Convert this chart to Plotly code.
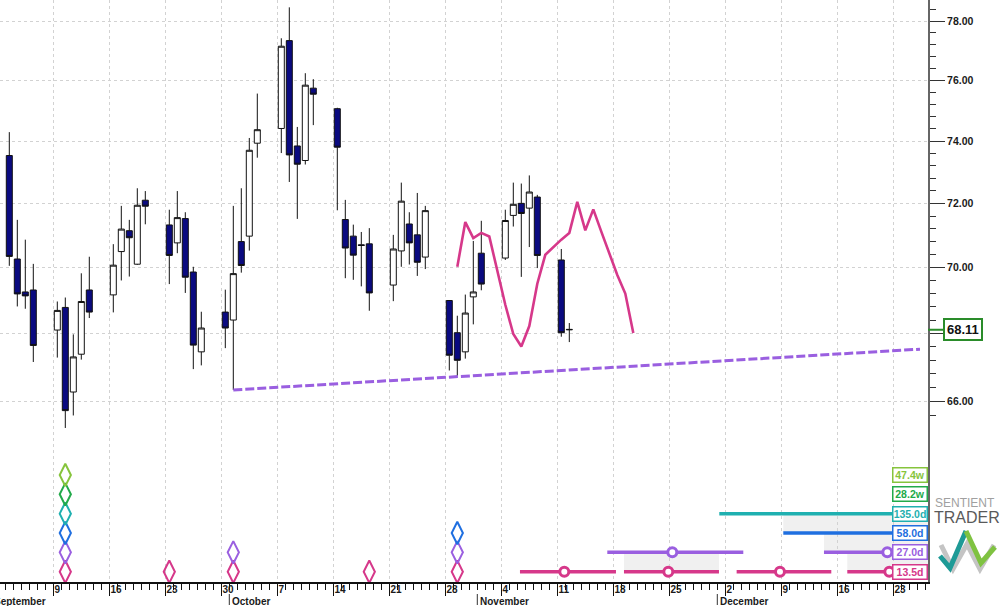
import math
import pandas as pd
import plotly.graph_objects as go

# ---------------- data ----------------
dates = ["2024-09-03", "2024-09-04", "2024-09-05", "2024-09-06",
         "2024-09-09", "2024-09-10", "2024-09-11", "2024-09-12", "2024-09-13",
         "2024-09-16", "2024-09-17", "2024-09-18", "2024-09-19", "2024-09-20",
         "2024-09-23", "2024-09-24", "2024-09-25", "2024-09-26", "2024-09-27",
         "2024-09-30", "2024-10-01", "2024-10-02", "2024-10-03", "2024-10-04",
         "2024-10-07", "2024-10-08", "2024-10-09", "2024-10-10", "2024-10-11",
         "2024-10-14", "2024-10-15", "2024-10-16", "2024-10-17", "2024-10-18",
         "2024-10-21", "2024-10-22", "2024-10-23", "2024-10-24", "2024-10-25",
         "2024-10-28", "2024-10-29", "2024-10-30", "2024-10-31", "2024-11-01",
         "2024-11-04", "2024-11-05", "2024-11-06", "2024-11-07", "2024-11-08",
         "2024-11-11", "2024-11-12"]
opens = [73.53, 70.26, 69.25, 69.31,
         68.10, 68.78, 66.27, 67.38, 69.31,
         69.16, 70.49, 71.14, 70.10, 72.10,
         71.32, 70.76, 71.52, 69.86, 67.45,
         68.64, 68.40, 70.80, 70.97, 73.93,
         74.41, 77.34, 73.84, 73.37, 75.74,
         75.06, 71.49, 70.97, 70.70, 70.73,
         69.46, 70.51, 71.35, 71.01, 70.32,
         68.99, 68.02, 67.45, 69.10, 70.44,
         70.29, 71.62, 72.00, 71.85, 72.20,
         70.23, 68.12]
highs = [74.29, 71.48, 70.86, 70.11,
         68.96, 69.08, 67.97, 69.82, 70.33,
         70.72, 71.92, 71.48, 72.48, 72.39,
         71.80, 72.39, 71.72, 70.02, 68.65,
         69.32, 71.92, 72.48, 74.10, 75.56,
         77.42, 78.48, 74.46, 76.24, 76.04,
         75.09, 72.11, 71.33, 71.10, 71.22,
         71.01, 72.66, 71.72, 72.33, 71.92,
         69.00, 68.53, 69.17, 70.82, 71.45,
         71.80, 72.66, 72.63, 72.89, 72.27,
         70.57, 68.31]
lows = [70.05, 68.81, 68.74, 67.15,
        67.28, 65.23, 65.59, 67.22, 68.46,
        68.63, 69.60, 69.72, 70.08, 71.34,
        69.49, 70.44, 69.22, 66.94, 67.05,
        67.56, 66.33, 69.84, 70.52, 73.46,
        73.61, 72.68, 71.51, 73.24, 74.52,
        71.78, 69.67, 69.62, 69.42, 68.68,
        68.97, 70.02, 70.09, 69.74, 69.95,
        66.90, 66.73, 67.25, 68.27, 69.30,
        70.23, 71.27, 69.71, 70.63, 69.98,
        67.90, 67.74]
closes = [70.34, 69.19, 69.13, 67.64,
          68.69, 65.73, 67.30, 68.96, 68.64,
          70.07, 71.19, 70.92, 71.94, 71.91,
          70.37, 71.55, 69.70, 67.65, 68.16,
          68.16, 69.81, 70.06, 73.70, 74.37,
          77.15, 73.55, 73.25, 75.84, 75.54,
          73.80, 70.60, 70.38, 70.68, 69.22,
          70.57, 72.07, 70.76, 70.16, 71.77,
          67.35, 67.20, 68.61, 69.25, 69.49,
          71.46, 71.97, 71.68, 72.36, 70.37,
          68.02, 68.11]

# projection (pink) line, one value per calendar day
proj_dates = ["2024-10-29", "2024-10-30", "2024-10-31", "2024-11-01", "2024-11-02",
              "2024-11-03", "2024-11-04", "2024-11-05", "2024-11-06", "2024-11-07",
              "2024-11-08", "2024-11-09", "2024-11-10", "2024-11-11", "2024-11-12",
              "2024-11-13", "2024-11-14", "2024-11-15", "2024-11-16", "2024-11-17",
              "2024-11-18", "2024-11-19", "2024-11-20"]
proj_values = [70.02, 71.41, 70.91, 71.07, 70.96,
               69.89, 68.86, 67.98, 67.61, 68.22,
               69.50, 70.39, 70.64, 70.86, 71.07,
               72.05, 71.15, 71.81, 71.11, 70.42,
               69.77, 69.20, 68.01]

# support trend line (dashed purple)
trend_dates = ["2024-10-01 12:00", "2024-12-26 08:00"]
trend_values = [66.33, 67.53]

# price axis
price_ticks = [66, 68, 70, 72, 74, 76, 78]
price_tick_labels = ["66.00", "68.00", "70.00", "72.00", "74.00", "76.00", "78.00"]

# time axis
week_ticks = ["2024-09-02", "2024-09-09", "2024-09-16", "2024-09-23", "2024-09-30",
              "2024-10-07", "2024-10-14", "2024-10-21", "2024-10-28", "2024-11-04",
              "2024-11-11", "2024-11-18", "2024-11-25", "2024-12-02", "2024-12-09",
              "2024-12-16", "2024-12-23"]
week_labels = ["2", "9", "16", "23", "30", "7", "14", "21", "28", "4", "11", "18",
               "25", "2", "9", "16", "23"]
month_starts = ["2024-10-01", "2024-11-01", "2024-12-01"]
month_names = ["October", "November", "December"]
first_month_name = "September"

# cycles panel (row 0 at the bottom)
cycle_names = ["13.5d", "27.0d", "58.0d", "135.0d", "28.2w", "47.4w"]
cycle_colors = ["#d6388a", "#9a5fe0", "#1f6fe0", "#1fb0b0", "#22aa4a", "#86c43c"]
cycle_signals = [
    ["2024-09-10", "2024-09-23", "2024-10-01", "2024-10-18", "2024-10-29"],
    ["2024-09-10", "2024-10-01", "2024-10-29"],
    ["2024-09-10", "2024-10-29"],
    ["2024-09-10"],
    ["2024-09-10"],
    ["2024-09-10"],
]
cycle_segments = [
    [("2024-11-06 08:00", "2024-11-18 08:00"), ("2024-11-19 08:00", "2024-12-01 05:00"),
     ("2024-12-03 10:00", "2024-12-15 06:00"), ("2024-12-17 06:00", "2024-12-31 00:00")],
    [("2024-11-17 06:00", "2024-12-04 06:00"), ("2024-12-14 08:00", "2024-12-31 00:00")],
    [("2024-12-09 06:00", "2024-12-31 00:00")],
    [("2024-12-01 06:00", "2024-12-31 00:00")],
    [],
    [],
]
cycle_peaks = [
    ["2024-11-11 21:00", "2024-11-24 21:00", "2024-12-08 20:00", "2024-12-22 12:00"],
    ["2024-11-25 09:00", "2024-12-22 06:00"],
    [], [], [], [],
]
cycle_overlaps = [  # (start, end, lower row)
    ("2024-11-19 08:00", "2024-12-01 05:00", 0),
    ("2024-12-17 06:00", "2024-12-31 00:00", 0),
    ("2024-12-14 08:00", "2024-12-31 00:00", 1),
    ("2024-12-09 06:00", "2024-12-31 00:00", 2),
]

# ---------------- figure ----------------
W, H = 1000, 606
ML, MR, MT, MB = 0, 72, 0, 24
PW, PH = W - ML - MR, H - MT - MB

noon = pd.Timedelta(hours=12)
bar_x = [pd.Timestamp(d) + noon for d in dates]
proj_x = [pd.Timestamp(d) + noon for d in proj_dates]

x_start = pd.Timestamp("2024-09-02 08:06")
x_end = x_start + pd.Timedelta(days=116)
day_ticks = pd.date_range("2024-09-02", "2024-12-28", freq="D")

FONT = "Liberation Sans, Arial, sans-serif"

fig = go.Figure()

fig.add_trace(go.Candlestick(
    x=bar_x, open=opens, high=highs, low=lows, close=closes,
    increasing=dict(fillcolor="#ffffff", line=dict(color="#111111", width=1)),
    decreasing=dict(fillcolor="#0a0a80", line=dict(color="#111111", width=1)),
    whiskerwidth=0, hoverinfo="skip", showlegend=False,
))

fig.add_trace(go.Scatter(
    x=trend_dates, y=trend_values, mode="lines",
    line=dict(color="#9a5fe0", width=3, dash="9px,3px"),
    hoverinfo="skip", showlegend=False,
))

fig.add_trace(go.Scatter(
    x=proj_x, y=proj_values, mode="lines",
    line=dict(color="#d6388a", width=2.6),
    hoverinfo="skip", showlegend=False,
))

# cycles panel
for row, name in enumerate(cycle_names):
    color = cycle_colors[row]
    xs, ys = [], []
    for s, e in cycle_segments[row]:
        xs += [s, e, None]
        ys += [row, row, None]
    if xs:
        fig.add_trace(go.Scatter(
            x=xs, y=ys, yaxis="y2", mode="lines",
            line=dict(color=color, width=3.5),
            hoverinfo="skip", showlegend=False,
        ))
    if cycle_peaks[row]:
        fig.add_trace(go.Scatter(
            x=cycle_peaks[row], y=[row] * len(cycle_peaks[row]), yaxis="y2",
            mode="markers",
            marker=dict(symbol="circle", size=9, color="#ffffff",
                        line=dict(color=color, width=3)),
            hoverinfo="skip", showlegend=False,
        ))
    sig_x = [pd.Timestamp(d) + noon for d in cycle_signals[row]]
    fig.add_trace(go.Scatter(
        x=sig_x, y=[row] * len(sig_x), yaxis="y2", mode="markers",
        marker=dict(symbol="diamond-tall-open", size=16, color=color,
                    line=dict(color=color, width=2)),
        hoverinfo="skip", showlegend=False,
    ))
    fig.add_annotation(
        xref="paper", x=1, xanchor="right", yref="y2", y=row, yanchor="middle",
        text="<b>%s</b>" % name, showarrow=False, width=33, height=13,
        align="center", bgcolor="#ffffff", bordercolor=color, borderwidth=1.5,
        borderpad=0, font=dict(family=FONT, size=10.5, color=color),
    )

for s, e, r in cycle_overlaps:
    fig.add_shape(type="rect", xref="x", yref="y2", x0=s, x1=e, y0=r, y1=r + 1,
                  fillcolor="#f0f0f0", line=dict(width=0), layer="below")

# last price marker
last = closes[-1]
fig.add_annotation(
    xref="paper", x=1, yref="y", y=math.log10(last),
    text="<b>%.2f</b>" % last, showarrow=True, arrowhead=0, arrowwidth=2,
    arrowcolor="#2a8c2a", ax=35, ay=0, standoff=0, startstandoff=0,
    bgcolor="#ffffff", bordercolor="#2a8c2a", borderwidth=2, borderpad=2,
    font=dict(family=FONT, size=13, color="#111111"),
)

# month labels
for d, name in zip(month_starts, month_names):
    fig.add_shape(type="line", xref="x", x0=d, x1=d, yref="paper",
                  ysizemode="pixel", yanchor=0, y0=-12, y1=-23,
                  line=dict(color="#333333", width=1))
    fig.add_annotation(xref="x", x=d, xanchor="left", xshift=1,
                       yref="paper", y=0, yanchor="middle", yshift=-19,
                       text="<b>%s</b>" % name, showarrow=False,
                       font=dict(family=FONT, size=10, color="#1a1a1a"))
fig.add_annotation(xref="paper", x=0, xanchor="left", xshift=-8,
                   yref="paper", y=0, yanchor="middle", yshift=-19,
                   text="<b>%s</b>" % first_month_name, showarrow=False,
                   font=dict(family=FONT, size=10, color="#1a1a1a"))

# logo
def px(xp):
    return (xp - ML) / PW

def py(yp):
    return (MT + PH - yp) / PH

fig.add_annotation(xref="paper", yref="paper", x=px(965), y=py(503),
                   xanchor="center", yanchor="middle",
                   text="SENTIENT", showarrow=False,
                   font=dict(family=FONT, size=12, color="#a0a0a0"))
fig.add_annotation(xref="paper", yref="paper", x=px(967), y=py(517),
                   xanchor="center", yanchor="middle",
                   text="TRADER", showarrow=False,
                   font=dict(family=FONT, size=16, color="#5a5a5a"))

def path(points):
    return "M" + " L".join("%.5f,%.5f" % (px(a), py(b)) for a, b in points)

fig.add_shape(type="path", xref="paper", yref="paper",
              path=path([(941, 545), (953, 569), (967, 544), (980, 569), (994, 545)]),
              line=dict(color="#c4c4c4", width=5))
fig.add_shape(type="path", xref="paper", yref="paper",
              path=path([(940, 556), (950, 568), (966, 531)]),
              line=dict(color="#1e9a96", width=5))
fig.add_shape(type="path", xref="paper", yref="paper",
              path=path([(966, 531), (981, 563), (995, 547)]),
              line=dict(color="#7fc241", width=5))

fig.update_layout(
    width=W, height=H,
    margin=dict(l=ML, r=MR, t=MT, b=MB, pad=0, autoexpand=False),
    paper_bgcolor="#ffffff", plot_bgcolor="#ffffff",
    showlegend=False, hovermode=False,
    boxgap=0.25, boxgroupgap=0,
    xaxis=dict(
        type="date", range=[x_start, x_end],
        tickmode="array", tickvals=week_ticks, ticktext=week_labels,
        ticks="outside", ticklen=12, tickwidth=1, tickcolor="#111111",
        ticklabelposition="outside right", ticklabelstandoff=-3,
        tickfont=dict(family=FONT, size=10, color="#1a1a1a", weight="bold"),
        showgrid=True, gridcolor="#d2d2d2", griddash="dot", gridwidth=1,
        showline=True, linecolor="#111111", linewidth=1.5, zeroline=False,
        minor=dict(tickmode="array", tickvals=list(day_ticks), ticklen=6,
                   tickwidth=1, tickcolor="#111111", showgrid=False),
        rangeslider=dict(visible=False), fixedrange=True, automargin=False,
    ),
    yaxis=dict(
        type="log", range=[1.78504, 1.89616], side="right",
        tickmode="array", tickvals=price_ticks, ticktext=price_tick_labels,
        ticks="outside", ticklen=15, tickwidth=1, tickcolor="#333333",
        tickfont=dict(family=FONT, size=10.5, color="#1a1a1a", weight="bold"),
        showgrid=True, gridcolor="#d2d2d2", griddash="dot", gridwidth=1,
        showline=True, linecolor="#666666", linewidth=2, zeroline=False,
        minor=dict(tickmode="array",
                   tickvals=[round(65.6 + 0.4 * i, 1) for i in range(33)
                             if i % 5 != 1],
                   ticklen=6, tickwidth=1, tickcolor="#333333", showgrid=False),
        fixedrange=True, automargin=False,
    ),
    yaxis2=dict(overlaying="y", range=[-0.532, 29.545], visible=False,
                fixedrange=True),
)

fig.write_html(
    "out.html",
    config={"displayModeBar": False, "staticPlot": True},
    post_script="document.body.style.margin='0';document.body.style.overflow='hidden';",
)
